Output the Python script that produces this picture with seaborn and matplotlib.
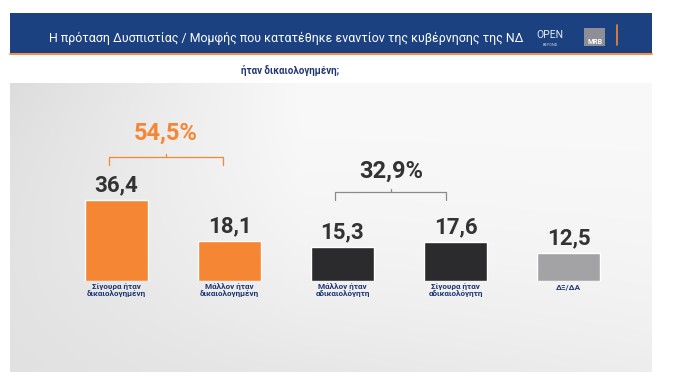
import numpy as np
import pandas as pd
import seaborn as sns
import matplotlib.pyplot as plt

# chart data
categories = ["Σίγουρα ήταν\nδικαιολογημένη", "Μάλλον ήταν\nδικαιολογημένη",
              "Μάλλον ήταν\nαδικαιολόγητη", "Σίγουρα ήταν\nαδικαιολόγητη", "ΔΞ/ΔΑ"]
values = [36.4, 18.1, 15.3, 17.6, 12.5]
value_labels = ["36,4", "18,1", "15,3", "17,6", "12,5"]
bar_colors = ["#F58634", "#F58634", "#2B2B2D", "#2B2B2D", "#A3A3A5"]
groups = [(0, 1, "54,5%"), (2, 3, "32,9%")]
title = "Η πρόταση Δυσπιστίας / Μομφής που κατατέθηκε εναντίον της κυβέρνησης της ΝΔ"
subtitle = "ήταν δικαιολογημένη;"

df = pd.DataFrame({"cat": categories, "val": values})

sns.set_style("white")
plt.rcParams["font.family"] = ["Roboto", "DejaVu Sans"]

W, H = 679, 386
fig = plt.figure(figsize=(W / 100, H / 100), dpi=100)
fig.patch.set_facecolor("white")

def fx(px):
    return px / W

def fy(py):
    return 1 - py / H

# header band
hdr = fig.add_axes([fx(10), fy(53), fx(642), (53 - 13) / H])
hdr.set_facecolor("#1C4181")
hdr.set_xticks([]); hdr.set_yticks([])
for s in hdr.spines.values():
    s.set_visible(False)
fig.text(fx(49), fy(38), title, color="white", fontsize=8.9, va="center", ha="left")
fig.text(fx(550), fy(35), "OPEN", color="white", fontsize=7.5, va="center", ha="center", alpha=0.9)
fig.text(fx(550), fy(45), "BEYOND", color="white", fontsize=2.8, va="center", ha="center", alpha=0.8)
mrb = fig.add_axes([fx(584), fy(46), fx(21), 18 / H])
mrb.set_facecolor("#8E8E96")
mrb.set_xticks([]); mrb.set_yticks([])
for s in mrb.spines.values():
    s.set_visible(False)
mrb.text(0.5, 0.25, "MRB", color="white", fontsize=5, fontweight="bold", ha="center", va="center",
         transform=mrb.transAxes)
fig.add_artist(plt.Line2D([fx(617), fx(617)], [fy(25), fy(45)], color="#F58634", lw=1.2))
fig.add_artist(plt.Line2D([fx(10), fx(652)], [fy(53.5), fy(53.5)], color="#F58634", lw=1.3))

fig.text(fx(290), fy(70), subtitle, color="#1F3673", fontsize=7, fontweight="bold", ha="center", va="center")

# gradient panel
bg = fig.add_axes([fx(10), fy(372), fx(642), (372 - 83) / H])
xx, yy = np.meshgrid(np.linspace(0, 1, 200), np.linspace(0, 1, 120))
shade = 0.975 - 0.11 * np.clip(1 - xx * 2.2, 0, 1) * (1 - yy) ** 0.8 - 0.09 * yy ** 2 * (1 - xx * 0.5)
bg.imshow(np.dstack([shade, shade, shade]), aspect="auto", extent=[0, 1, 0, 1])
bg.set_xticks([]); bg.set_yticks([])
for s in bg.spines.values():
    s.set_visible(False)

# bars: 113 px per category, 2.23 px per unit, baseline at y=281
ax = fig.add_axes([fx(60), fy(281), fx(565), 80 * 2.23 / H])
ax.patch.set_alpha(0)
sns.barplot(data=df, x="cat", y="val", hue="cat", palette=bar_colors, legend=False,
            width=0.56, saturation=1, ax=ax)
ax.set_xlim(-0.5, 4.5)
ax.set_ylim(0, 80)
ax.set_yticks([])
ax.set_xlabel(""); ax.set_ylabel("")
for s in ax.spines.values():
    s.set_visible(False)
ax.tick_params(axis="x", length=0, pad=1.5)
for lbl in ax.get_xticklabels():
    lbl.set_color("#1F3673")
    lbl.set_fontsize(5.9)
    lbl.set_fontweight("bold")
    lbl.set_linespacing(1.05)

for i, (v, t) in enumerate(zip(values, value_labels)):
    ax.annotate(t, (i, v), xytext=(0, 2.5), textcoords="offset points", ha="center", va="bottom",
                fontsize=16, fontweight="bold", color="#333333")

# group brackets
bracket_style = {0: ("#F58634", "#F58634", 0.94, 55.6, 61.0),
                 2: ("#8A8A8A", "#333333", 0.92, 39.9, 44.0)}
for a, b, txt in groups:
    lc, tc, span, yb, yt = bracket_style[a]
    x0, x1 = a - 0.066, a + span
    ax.plot([x0, x0, x1, x1], [yb - 3.4, yb, yb, yb - 3.4], color=lc, lw=0.9, clip_on=False)
    xm = (x0 + x1) / 2
    ax.plot([xm, xm], [yb, yb + 1.2], color=lc, lw=0.9, clip_on=False)
    ax.text(xm, yt, txt, color=tc, fontsize=17, fontweight="bold", ha="center", va="bottom")

fig.savefig("out.png", dpi=100)
